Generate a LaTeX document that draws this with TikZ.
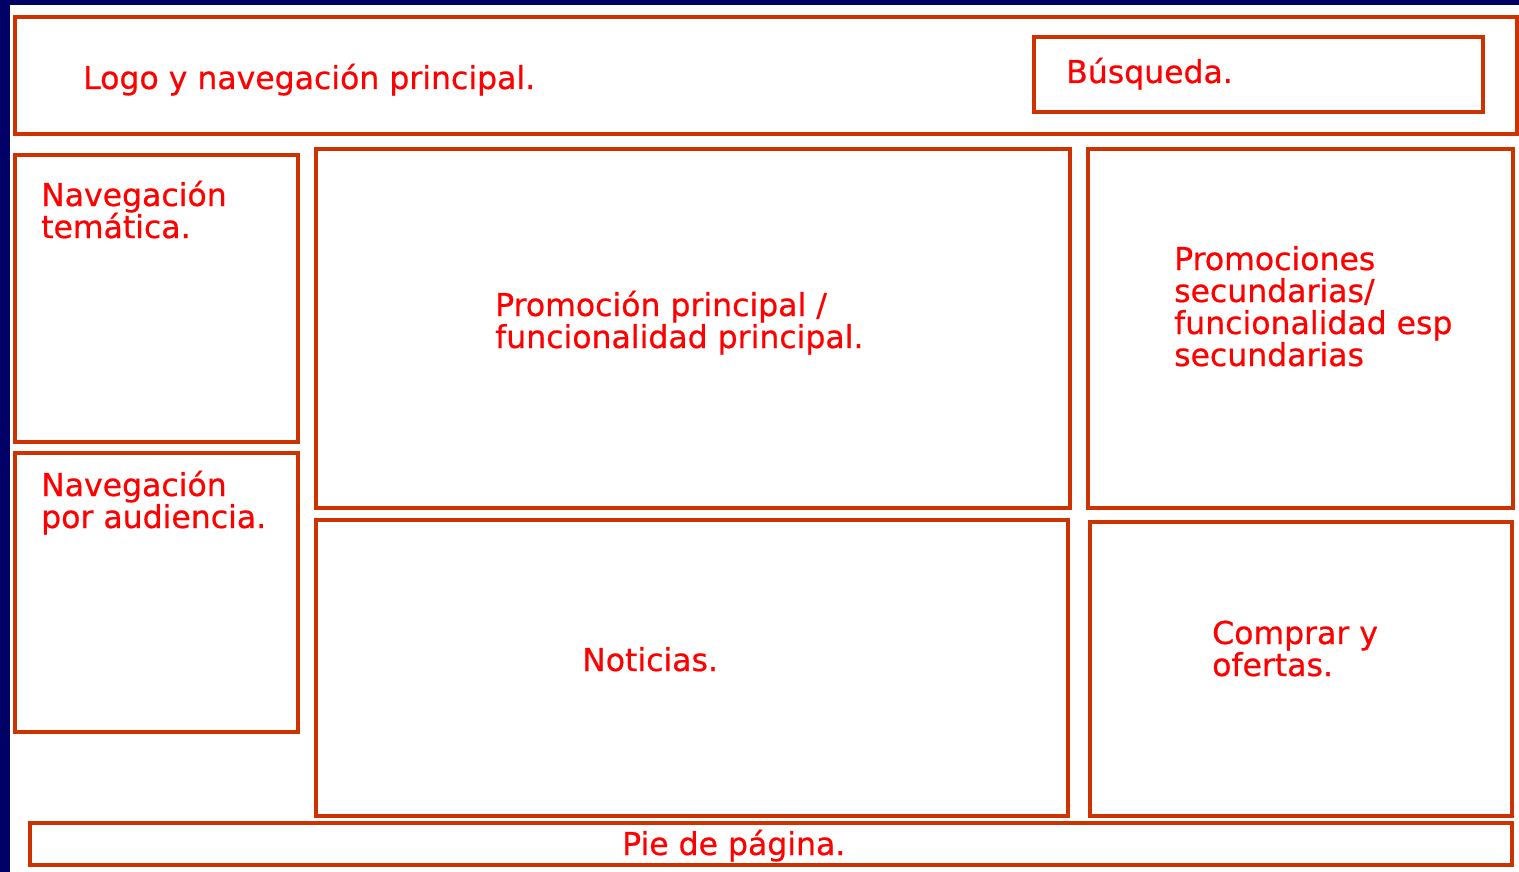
\documentclass[tikz,border=0pt]{standalone}
\usepackage{fontspec}
\setmainfont{DejaVu Sans}
\newfontfamily\lblfont{DejaVu Sans}[FakeBold=0.6]
\definecolor{navy}{RGB}{0,0,102}
\definecolor{boxline}{RGB}{204,51,0}
\definecolor{txtred}{RGB}{255,0,0}
\tikzset{
  layoutbox/.style={draw=boxline, line width=3.5pt},
  lbl/.style={text=txtred, inner sep=0pt, anchor=base west, align=left,
    font=\lblfont\fontsize{31.5}{32}\selectfont},
}
\begin{document}
\begin{tikzpicture}[x=1pt,y=-1pt]
\useasboundingbox (0,0) rectangle (1519,872);
\fill[white] (0,0) rectangle (1519,872);
\fill[navy] (0,0) rectangle (1519,5);
\fill[navy] (0,0) rectangle (10,872);
% boxes
\draw[layoutbox] (15,17) rectangle (1517,134);
\draw[layoutbox] (1034,37) rectangle (1483,112);
\draw[layoutbox] (15,155) rectangle (298,442);
\draw[layoutbox] (15,453) rectangle (298,732);
\draw[layoutbox] (316,149) rectangle (1070,508);
\draw[layoutbox] (1088,149) rectangle (1513,508);
\draw[layoutbox] (316,520) rectangle (1068,816);
\draw[layoutbox] (1090,522) rectangle (1512,816);
\draw[layoutbox] (30,823) rectangle (1512,865);
% labels (multi-line nodes are placed by the baseline of their last line)
\node[lbl] (logo) at (83,89) {Logo y navegación principal.};
\node[lbl] (search) at (1066,83) {Búsqueda.};
\node[lbl] (navtem) at (41,238) {Navegación\\temática.};
\node[lbl] (navaud) at (41,528) {Navegación\\por audiencia.};
\node[lbl] (promo) at (495,348) {Promoción principal /\\funcionalidad principal.};
\node[lbl] (promosec) at (1174,366) {Promociones\\secundarias/\\funcionalidad esp\\secundarias};
\node[lbl] (news) at (582,671) {Noticias.};
\node[lbl] (shop) at (1212,676) {Comprar y\\ofertas.};
\node[lbl] (foot) at (622,855) {Pie de página.};
\end{tikzpicture}
\end{document}
